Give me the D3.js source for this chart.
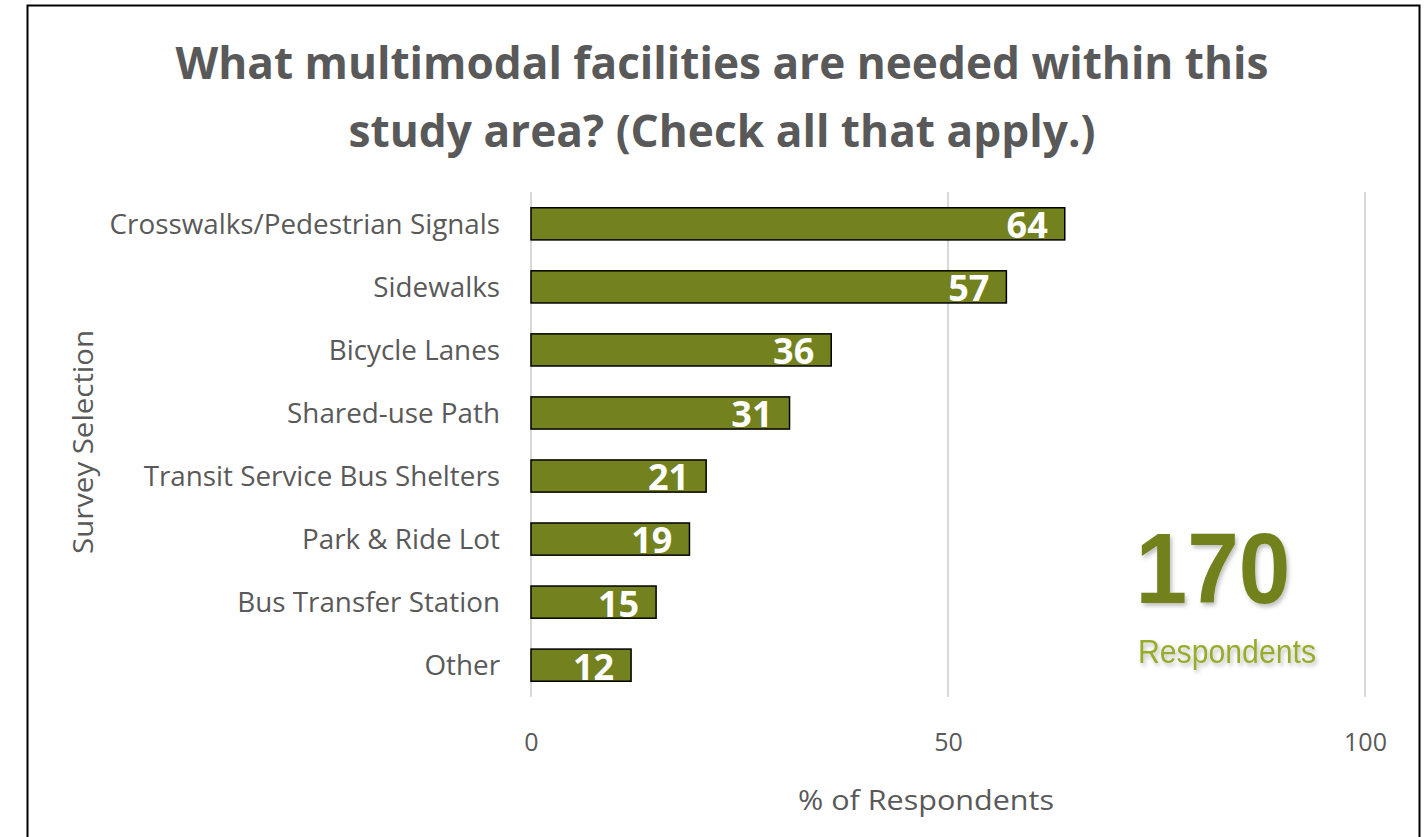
<!DOCTYPE html>
<html>
<head>
<meta charset="utf-8">
<script src="https://cdn.jsdelivr.net/npm/d3@7"></script>
<style>
  html, body { margin: 0; padding: 0; background: #fff; }
  svg { display: block; }
</style>
</head>
<body>
<svg id="chart" width="1424" height="837"></svg>
<script>
const categories = [
  "Crosswalks/Pedestrian Signals",
  "Sidewalks",
  "Bicycle Lanes",
  "Shared-use Path",
  "Transit Service Bus Shelters",
  "Park & Ride Lot",
  "Bus Transfer Station",
  "Other"
];
const values = [64, 57, 36, 31, 21, 19, 15, 12];
const xTicks = [0, 50, 100];
const titleLines = ["What multimodal facilities are needed within this", "study area? (Check all that apply.)"];
const respondents = 170;

const svg = d3.select("#chart");
const W = 1424, H = 837;
const margin = { left: 531, right: 59, top: 192, bottom: 140 };
const fontMain = "'Open Sans', Lato, sans-serif";
const textGrey = "#595959";
const barColor = "#73811f";

svg.append("rect").attr("x", 0).attr("y", 0).attr("width", W).attr("height", H).attr("fill", "#fff");
// outer chart border
svg.append("path")
  .attr("d", `M27.5,${H + 2} V5.5 H1419.5 V${H + 2}`)
  .attr("fill", "none").attr("stroke", "#000").attr("stroke-width", 2);

const x = d3.scaleLinear().domain([0, 100]).range([margin.left, W - margin.right]);
const y = d3.scaleBand().domain(categories).range([margin.top, H - margin.bottom]).paddingInner(0.49).paddingOuter(0.25);

// title
const title = svg.append("text")
  .attr("x", 722).attr("y", 79)
  .attr("text-anchor", "middle")
  .attr("font-family", fontMain).attr("font-weight", 700)
  .attr("font-size", 44).attr("fill", textGrey);
title.selectAll("tspan").data(titleLines).join("tspan")
  .attr("x", 722).attr("dy", (d, i) => i === 0 ? 0 : 68)
  .attr("textLength", (d, i) => i === 0 ? 1093 : 747)
  .attr("lengthAdjust", "spacingAndGlyphs")
  .text(d => d);

// gridlines
svg.append("g").selectAll("line").data(xTicks).join("line")
  .attr("x1", d => x(d)).attr("x2", d => x(d))
  .attr("y1", margin.top).attr("y2", H - margin.bottom)
  .attr("stroke", "#d9d9d9").attr("stroke-width", 2);

// x axis (labels only)
const xAxis = d3.axisBottom(x).tickValues(xTicks).tickSize(0).tickPadding(0);
const gx = svg.append("g").attr("transform", `translate(0,${H - margin.bottom + 54})`).call(xAxis);
gx.select(".domain").remove();
gx.selectAll("text").attr("font-family", fontMain).attr("font-size", 25).attr("fill", textGrey).attr("dy", "0");

// y axis (labels only)
const yAxis = d3.axisLeft(y).tickSize(0).tickPadding(31);
const gy = svg.append("g").attr("transform", `translate(${margin.left},0)`).call(yAxis);
gy.select(".domain").remove();
gy.selectAll("text").attr("font-family", fontMain).attr("font-size", 27.8).attr("fill", textGrey).attr("dy", "0.36em");

// bars
svg.append("g").selectAll("rect").data(values).join("rect")
  .attr("x", x(0))
  .attr("y", (d, i) => y(categories[i]))
  .attr("width", d => x(d) - x(0))
  .attr("height", y.bandwidth())
  .attr("fill", barColor)
  .attr("stroke", "#000").attr("stroke-width", 1.5);

// value labels
svg.append("g").selectAll("text").data(values).join("text")
  .attr("x", d => x(d) - 17)
  .attr("y", (d, i) => y(categories[i]) + y.bandwidth() / 2)
  .attr("dy", "0.4em")
  .attr("text-anchor", "end")
  .attr("font-family", fontMain).attr("font-weight", 700)
  .attr("font-size", 36).attr("fill", "#fff")
  .text(d => d);

// axis titles
svg.append("text")
  .attr("transform", `translate(93,442) rotate(-90)`)
  .attr("text-anchor", "middle")
  .attr("font-family", fontMain).attr("font-size", 28).attr("fill", textGrey)
  .attr("textLength", 224).attr("lengthAdjust", "spacingAndGlyphs")
  .text("Survey Selection");
svg.append("text")
  .attr("x", 926).attr("y", 810)
  .attr("text-anchor", "middle")
  .attr("font-family", fontMain).attr("font-size", 27).attr("fill", textGrey)
  .attr("textLength", 256).attr("lengthAdjust", "spacingAndGlyphs")
  .text("% of Respondents");

// respondents annotation
const defs = svg.append("defs");
const f = defs.append("filter").attr("id", "shadow").attr("x", "-10%").attr("y", "-10%").attr("width", "130%").attr("height", "130%");
f.append("feDropShadow").attr("dx", 2).attr("dy", 3).attr("stdDeviation", 2).attr("flood-color", "#000").attr("flood-opacity", 0.25);

svg.append("text")
  .attr("x", 1213).attr("y", 603)
  .attr("text-anchor", "middle")
  .attr("font-family", "'Liberation Sans', Arial, sans-serif").attr("font-weight", 700)
  .attr("font-size", 100).attr("fill", "#73811f")
  .attr("filter", "url(#shadow)")
  .attr("textLength", 155).attr("lengthAdjust", "spacingAndGlyphs")
  .text(respondents);
svg.append("text")
  .attr("x", 1227).attr("y", 663)
  .attr("text-anchor", "middle")
  .attr("font-family", "'Liberation Sans', Arial, sans-serif")
  .attr("font-size", 34).attr("fill", "#98ab2c")
  .attr("filter", "url(#shadow)")
  .attr("textLength", 178).attr("lengthAdjust", "spacingAndGlyphs")
  .text("Respondents");
</script>
</body>
</html>
